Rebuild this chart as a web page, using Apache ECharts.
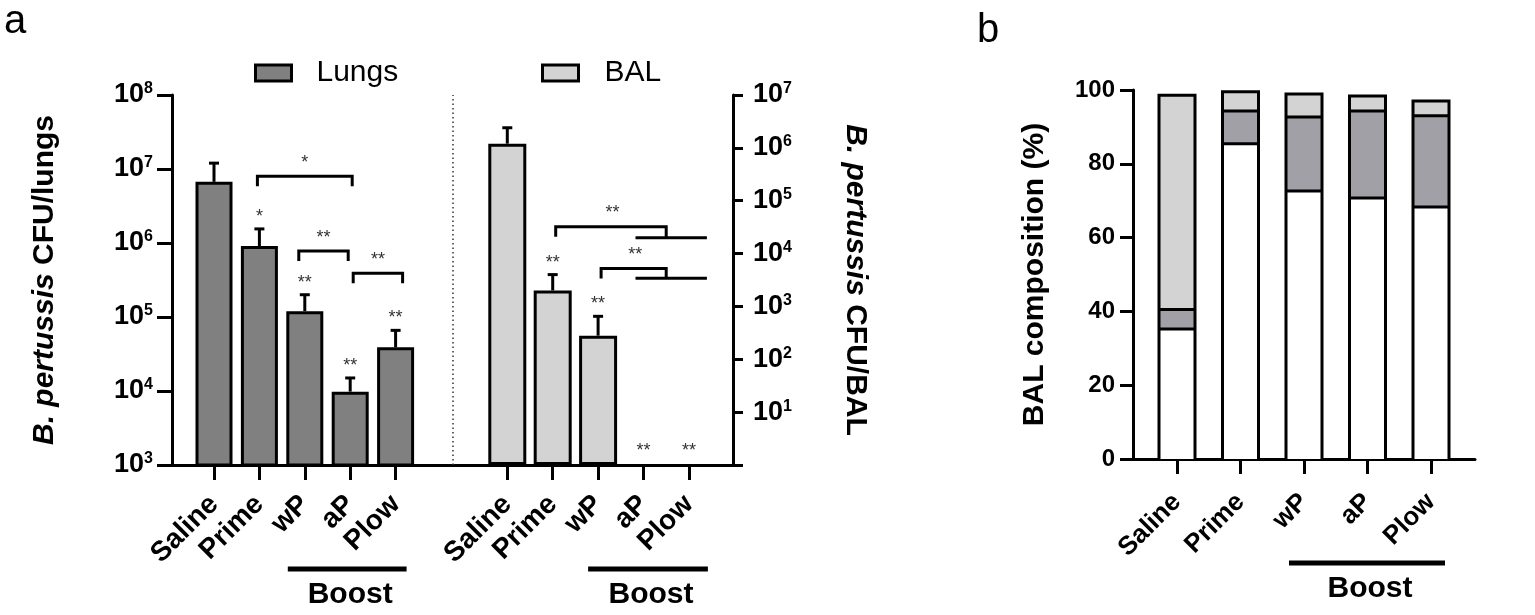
<!DOCTYPE html>
<html>
<head>
<meta charset="utf-8">
<title>B. pertussis CFU and BAL composition</title>
<script src="https://cdn.jsdelivr.net/npm/echarts@6/dist/echarts.min.js"></script>
<style>
  html, body { margin: 0; padding: 0; background: #fff; }
  #chart { width: 1535px; height: 615px; }
</style>
</head>
<body>
<div id="chart"></div>
<script>
const FONT = '"Liberation Sans", Arial, sans-serif';

const groups = ['Saline', 'Prime', 'wP', 'aP', 'Plow'];

// a, lungs: CFU/lungs (mean and top of error bar)
const lungsMean = [6.7e6, 9.1e5, 1.2e5, 9.8e3, 3.9e4];
const lungsErr = [1.2e7, 1.55e6, 2.0e5, 1.5e4, 6.6e4];
const lungsStars = ['', '*', '**', '**', '**'];
const lungsRange = [1e3, 1e8];
// [from, to, height, label]
const lungsBrackets = [[1, 3, 8.0e6, '*'], [2, 3, 7.8e5, '**'], [3, 4, 3.9e5, '**']];

// a, BAL: CFU/BAL (aP and Plow below detection)
const balMean = [1.2e6, 2.0e3, 2.8e2, null, null];
const balErr = [2.4e6, 4.0e3, 6.5e2, null, null];
const balStars = ['', '**', '**', '**', '**'];
const balRange = [1, 1e7];
// [from, height, height at aP/Plow, label]
const balBrackets = [[1, 3.2e4, 2.0e4, '**'], [2, 5.2e3, 3.4e3, '**']];

// b, BAL composition (%), stacked bottom -> top
const compWhite = [35.2, 85.4, 72.6, 70.7, 68.3];
const compDark = [5.3, 8.9, 20.1, 23.6, 24.7];
const compLight = [58.1, 5.2, 6.2, 4.1, 4.0];

const boostSpan = [2, 4];

const chart = echarts.init(document.getElementById('chart'));

function powLabel(v) {
    const e = Math.round(Math.log10(v));
    return e === 0 ? '' : '{b|10}{s|' + e + '}';
}

const powRich = {
    b: { fontSize: 27, fontWeight: 'bold', color: '#000', fontFamily: FONT, lineHeight: 28 },
    s: { fontSize: 16, fontWeight: 'bold', color: '#000', fontFamily: FONT, lineHeight: 14, verticalAlign: 'top' }
};

const black = { color: '#000', width: 3 };

function catAxis(grid, size, margin) {
    return {
        type: 'category', gridIndex: grid, data: groups,
        axisLine: { show: false },
        axisTick: { show: true, alignWithLabel: true, length: 15, lineStyle: black },
        axisLabel: { interval: 0, rotate: 45, margin: margin, fontSize: size, fontWeight: 'bold', color: '#000', fontFamily: FONT },
        splitLine: { show: false }
    };
}

function hiddenY(grid, type, range) {
    return { type: type, gridIndex: grid, min: range[0], max: range[1], show: false, splitLine: { show: false } };
}

function textEl(text, x, y, size, weight, color) {
    return {
        type: 'text',
        style: {
            text: text, x: x, y: y, fill: color || '#000',
            fontSize: size, fontWeight: weight || 'normal', fontFamily: FONT,
            textAlign: 'center', textVerticalAlign: 'middle', align: 'center', verticalAlign: 'middle'
        }
    };
}

function errorSeries(xi, yi, means, errs) {
    return {
        type: 'custom', xAxisIndex: xi, yAxisIndex: yi, silent: true, z: 4,
        data: means.map((m, i) => [i, m, errs[i]]).filter(d => d[1] != null),
        renderItem: function (params, api) {
            const b = api.coord([api.value(0), api.value(1)]);
            const t = api.coord([api.value(0), api.value(2)]);
            const st = { stroke: '#000', lineWidth: 3 };
            return {
                type: 'group', children: [
                    { type: 'line', shape: { x1: b[0], y1: b[1], x2: t[0], y2: t[1] }, style: st },
                    { type: 'line', shape: { x1: t[0] - 5, y1: t[1], x2: t[0] + 5, y2: t[1] }, style: st }
                ]
            };
        }
    };
}

function starSeries(xi, yi, labels, anchors, min) {
    return {
        type: 'custom', xAxisIndex: xi, yAxisIndex: yi, silent: true, z: 4,
        data: labels.map((s, i) => [i, anchors[i] == null ? min : anchors[i]]),
        renderItem: function (params, api) {
            const i = params.dataIndex;
            const p = api.coord([api.value(0), api.value(1)]);
            const gap = anchors[i] == null ? 14 : 12;
            return textEl(labels[i], p[0], p[1] - gap, 18, 'normal', '#333');
        }
    };
}

function boostSeries(xi, yi, min, padL, padR) {
    return {
        type: 'custom', xAxisIndex: xi, yAxisIndex: yi, silent: true,
        data: [[boostSpan[0], min, boostSpan[1]]],
        renderItem: function (params, api) {
            const a = api.coord([api.value(0), api.value(1)]);
            const b = api.coord([api.value(2), api.value(1)]);
            const x1 = a[0] - padL, x2 = b[0] + padR;
            return {
                type: 'group', children: [
                    { type: 'line', shape: { x1: x1, y1: a[1] + 104, x2: x2, y2: a[1] + 104 }, style: { stroke: '#000', lineWidth: 5 } },
                    textEl('Boost', (x1 + x2) / 2 + 3, a[1] + 130, 30, 'bold')
                ]
            };
        }
    };
}

const option = {
    animation: false,
    backgroundColor: '#fff',
    title: [
        { text: 'a', left: 4, top: 2, padding: 0, textStyle: { fontSize: 40, fontWeight: 'normal', color: '#000', fontFamily: FONT } },
        { text: 'b', left: 977, top: 11, padding: 0, textStyle: { fontSize: 40, fontWeight: 'normal', color: '#000', fontFamily: FONT } }
    ],
    legend: [
        {
            data: ['Lungs'], left: 249, top: 53, icon: 'rect', itemWidth: 36, itemHeight: 16, selectedMode: false,
            itemStyle: { borderColor: '#000', borderWidth: 3 },
            textStyle: { fontSize: 30, color: '#000', fontFamily: FONT, padding: [0, 0, 0, 20] }
        },
        {
            data: ['BAL'], left: 536, top: 53, icon: 'rect', itemWidth: 36, itemHeight: 16, selectedMode: false,
            itemStyle: { borderColor: '#000', borderWidth: 3 },
            textStyle: { fontSize: 30, color: '#000', fontFamily: FONT, padding: [0, 0, 0, 21] }
        }
    ],
    grid: [
        { left: 172, top: 95, width: 561, height: 370, outerBoundsMode: 'none' },    // a frame
        { left: 191.3, top: 95, width: 227, height: 370, outerBoundsMode: 'none' },  // lungs
        { left: 484.6, top: 95, width: 227, height: 370, outerBoundsMode: 'none' },  // BAL
        { left: 1133, top: 90, width: 342, height: 369, outerBoundsMode: 'none' },   // b frame
        { left: 1145.25, top: 90, width: 317.5, height: 369, outerBoundsMode: 'none' } // b bars
    ],
    xAxis: [
        { type: 'value', gridIndex: 0, min: 0, max: 1, axisLine: { show: true, lineStyle: black },
          axisTick: { show: false }, axisLabel: { show: false }, splitLine: { show: false } },
        catAxis(1, 28, 35),
        catAxis(2, 28, 35),
        { type: 'value', gridIndex: 3, min: 0, max: 1, axisLine: { show: true, lineStyle: black },
          axisTick: { show: false }, axisLabel: { show: false }, splitLine: { show: false } },
        catAxis(4, 26, 39)
    ],
    yAxis: [
        {
            type: 'log', gridIndex: 0, position: 'left', min: lungsRange[0], max: lungsRange[1], logBase: 10,
            axisLine: { show: true, lineStyle: black },
            axisTick: { show: true, length: 15, lineStyle: black },
            axisLabel: { margin: 19, formatter: powLabel, rich: powRich },
            splitLine: { show: false }, minorTick: { show: false },
            name: '{i|B. pertussis} CFU/lungs', nameLocation: 'middle', nameGap: 112, nameRotate: 90,
            nameTextStyle: {
                fontSize: 30, fontWeight: 'bold', color: '#000', fontFamily: FONT,
                rich: { i: { fontSize: 30, fontWeight: 'bold', fontStyle: 'italic', color: '#000', fontFamily: FONT } }
            }
        },
        {
            type: 'log', gridIndex: 0, position: 'right', min: balRange[0], max: balRange[1], logBase: 10,
            axisLine: { show: true, lineStyle: black },
            axisTick: { show: true, length: 10, lineStyle: black },
            axisLabel: { margin: 20, formatter: powLabel, rich: powRich },
            splitLine: { show: false }, minorTick: { show: false },
            name: '{i|B. pertussis} CFU/BAL', nameLocation: 'middle', nameGap: 107, nameRotate: -90,
            nameTextStyle: {
                fontSize: 30, fontWeight: 'bold', color: '#000', fontFamily: FONT,
                rich: { i: { fontSize: 30, fontWeight: 'bold', fontStyle: 'italic', color: '#000', fontFamily: FONT } }
            }
        },
        hiddenY(1, 'log', lungsRange),
        hiddenY(2, 'log', balRange),
        {
            type: 'value', gridIndex: 3, min: 0, max: 100, interval: 20,
            axisLine: { show: true, lineStyle: black },
            axisTick: { show: true, length: 13, lineStyle: black },
            axisLabel: { margin: 18, fontSize: 24, fontWeight: 'bold', color: '#000', fontFamily: FONT },
            splitLine: { show: false },
            name: 'BAL composition (%)', nameLocation: 'middle', nameGap: 83,
            nameTextStyle: { fontSize: 30, fontWeight: 'bold', color: '#000', fontFamily: FONT }
        },
        hiddenY(4, 'value', [0, 100])
    ],
    series: [
        // dotted divider between lungs and BAL
        {
            type: 'line', xAxisIndex: 0, yAxisIndex: 0, data: [], silent: true,
            markLine: {
                silent: true, symbol: 'none', label: { show: false },
                lineStyle: { color: '#333', width: 1.5, type: [1.5, 3] },
                data: [{ xAxis: 0.5 }]
            }
        },
        {
            name: 'Lungs', type: 'bar', xAxisIndex: 1, yAxisIndex: 2, data: lungsMean, barWidth: 37, clip: true,
            itemStyle: { color: '#808080', borderColor: '#000', borderWidth: 3 }
        },
        {
            name: 'BAL', type: 'bar', xAxisIndex: 2, yAxisIndex: 3, data: balMean, barWidth: 38, clip: true,
            itemStyle: { color: '#d3d3d3', borderColor: '#000', borderWidth: 3 }
        },
        errorSeries(1, 2, lungsMean, lungsErr),
        errorSeries(2, 3, balMean, balErr),
        starSeries(1, 2, lungsStars, lungsErr, lungsRange[0]),
        starSeries(2, 3, balStars, balErr, balRange[0]),
        // lungs comparison brackets
        {
            type: 'custom', xAxisIndex: 1, yAxisIndex: 2, silent: true,
            data: lungsBrackets.map(r => [r[0], r[2], r[1]]),
            renderItem: function (params, api) {
                const shift = [0, -4, 5][params.dataIndex];
                const a = api.coord([api.value(0), api.value(1)]);
                const c = api.coord([api.value(2), api.value(1)]);
                const x1 = a[0] - 2 + shift, x2 = c[0] + 2 + shift, y = a[1];
                return {
                    type: 'group', children: [
                        { type: 'polyline', shape: { points: [[x1, y + 10], [x1, y], [x2, y], [x2, y + 10]] },
                          style: { stroke: '#000', lineWidth: 3, fill: null } },
                        textEl(lungsBrackets[params.dataIndex][3], (x1 + x2) / 2, y - 13, 18, 'normal', '#333')
                    ]
                };
            }
        },
        // BAL comparison brackets: Prime / wP against aP + Plow
        {
            type: 'custom', xAxisIndex: 2, yAxisIndex: 3, silent: true,
            data: balBrackets.map(r => [r[0], r[1], r[2]]),
            renderItem: function (params, api) {
                const L = api.coord([api.value(0), api.value(1)]);
                const A = api.coord([3, api.value(2)]);
                const B = api.coord([4, api.value(2)]);
                const jx = (A[0] + B[0]) / 2;
                const st = { stroke: '#000', lineWidth: 3, fill: null };
                return {
                    type: 'group', children: [
                        { type: 'polyline', shape: { points: [[L[0] + 3, L[1] + 10], [L[0] + 3, L[1]], [jx, L[1]], [jx, A[1]]] }, style: st },
                        { type: 'line', shape: { x1: A[0] - 8, y1: A[1], x2: B[0] + 18, y2: A[1] }, style: st },
                        textEl(balBrackets[params.dataIndex][3], (L[0] + jx) / 2 + 3, L[1] - 14, 18, 'normal', '#333')
                    ]
                };
            }
        },
        boostSeries(1, 2, lungsRange[0], 17, 11),
        boostSeries(2, 3, balRange[0], 10, 19),
        // b: stacked composition, one outline per bar with shared 3px dividers
        {
            type: 'custom', xAxisIndex: 4, yAxisIndex: 5, silent: true, z: 3,
            data: groups.map((g, i) => [i, compWhite[i], compDark[i], compLight[i]]),
            renderItem: function (params, api) {
                const i = api.value(0);
                const v1 = api.value(1), v2 = v1 + api.value(2), v3 = v2 + api.value(3);
                const x = api.coord([i, 0])[0], w = 36, xl = x - w / 2, xr = x + w / 2;
                const y0 = api.coord([i, 0])[1];
                const y1 = api.coord([i, v1])[1];
                const y2 = api.coord([i, v2])[1];
                const y3 = api.coord([i, v3])[1];
                const st = { stroke: '#000', lineWidth: 3, fill: null };
                return {
                    type: 'group', children: [
                        { type: 'rect', shape: { x: xl, y: y1, width: w, height: y0 - y1 }, style: { fill: '#ffffff' } },
                        { type: 'rect', shape: { x: xl, y: y2, width: w, height: y1 - y2 }, style: { fill: '#a0a0a6' } },
                        { type: 'rect', shape: { x: xl, y: y3, width: w, height: y2 - y3 }, style: { fill: '#d3d3d3' } },
                        { type: 'line', shape: { x1: xl, y1: y1, x2: xr, y2: y1 }, style: st },
                        { type: 'line', shape: { x1: xl, y1: y2, x2: xr, y2: y2 }, style: st },
                        { type: 'polyline', shape: { points: [[xl, y0], [xl, y3], [xr, y3], [xr, y0]] }, style: st }
                    ]
                };
            }
        },
        boostSeries(4, 5, 0, 15, 14)
    ]
};

chart.setOption(option);
</script>
</body>
</html>
